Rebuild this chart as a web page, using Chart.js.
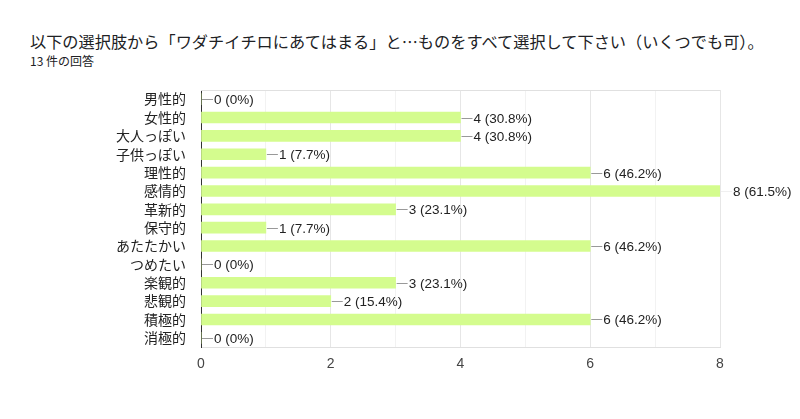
<!DOCTYPE html>
<html><head><meta charset="utf-8">
<script src="https://cdn.jsdelivr.net/npm/chart.js@4/dist/chart.umd.min.js"></script>
<style>
html,body{margin:0;padding:0;background:#fff;width:800px;height:419px;overflow:hidden;}
#t{position:absolute;left:30px;top:29px;font-family:"Noto Sans CJK JP","Noto Sans",sans-serif;font-size:16.2px;color:#202124;white-space:nowrap;}
#s{position:absolute;left:30px;top:52px;font-family:"Noto Sans CJK JP","Noto Sans",sans-serif;font-size:12px;color:#202124;white-space:nowrap;}
#w{position:absolute;left:0;top:0;width:800px;height:419px;}
</style></head><body>
<div id="t">以下の選択肢から「ワダチイチロにあてはまる」と…ものをすべて選択して下さい（いくつでも可）。</div>
<div id="s">13 件の回答</div>
<div id="w"><canvas id="c" width="800" height="419"></canvas></div>
<script>
const categories = ["男性的","女性的","大人っぽい","子供っぽい","理性的","感情的","革新的","保守的","あたたかい","つめたい","楽観的","悲観的","積極的","消極的"];
const counts = [0,4,4,1,6,8,3,1,6,0,3,2,6,0];
const percentLabels = ["0%","30.8%","30.8%","7.7%","46.2%","61.5%","23.1%","7.7%","46.2%","0%","23.1%","15.4%","46.2%","0%"];
const xTicks = [0,2,4,6,8];

const FONT = '"Liberation Sans", Arial, sans-serif';
const JFONT = '"Noto Sans CJK JP", sans-serif';

const labelPlugin = {
  id:'valueLabels',
  beforeDatasetsDraw(chart){
    const {ctx, chartArea:a} = chart;
    ctx.save();
    ctx.strokeStyle = '#e0e0e0';
    ctx.lineWidth = 1;
    ctx.beginPath(); ctx.moveTo(a.left, a.top+0.5); ctx.lineTo(a.right, a.top+0.5); ctx.stroke();
    ctx.restore();
  },
  afterDatasetsDraw(chart){
    const {ctx, chartArea:a} = chart;
    const meta = chart.getDatasetMeta(0);
    ctx.save();
    ctx.font = '13.5px ' + FONT;
    ctx.textBaseline = 'middle';
    ctx.fillStyle = '#222';
    meta.data.forEach((bar,i)=>{
      const x = bar.x, y = Math.round(bar.y)+0.5;
      ctx.strokeStyle = (x >= a.right-1) ? '#f0f0f0' : '#999';
      ctx.lineWidth = 1;
      ctx.beginPath(); ctx.moveTo(x+1, y); ctx.lineTo(x+12, y); ctx.stroke();
      ctx.fillText(counts[i] + ' (' + percentLabels[i] + ')', x+13, y+0.5);
    });
    ctx.restore();
  }
};

new Chart(document.getElementById('c'), {
  type:'bar',
  data:{labels:categories, datasets:[{data:counts, backgroundColor:'#d4fc8e', borderWidth:0, barThickness:11}]},
  options:{
    indexAxis:'y', responsive:false, animation:false, devicePixelRatio:1,
    layout:{padding:{top:90,right:80,left:0,bottom:0}},
    plugins:{legend:{display:false}, tooltip:{enabled:false}},
    scales:{
      x:{min:0,max:8,
        ticks:{stepSize:1, color:'#444', font:{size:14,family:FONT}, padding:9, autoSkip:false, maxRotation:0,
          callback:(v)=> xTicks.includes(v) ? String(v) : ''},
        grid:{color:(c)=> (c.tick && c.tick.value%2===0) ? '#e6e6e6' : '#f2f2f2', drawTicks:false},
        border:{display:true,color:'#e0e0e0'},
        afterFit:(s)=>{s.height=72;}
      },
      y:{
        ticks:{color:'#222', font:{size:14,family:JFONT}, padding:15, autoSkip:false},
        grid:{display:false, drawTicks:false},
        border:{display:true,color:'#333',width:1},
        afterFit:(s)=>{s.width=201;}
      }
    }
  },
  plugins:[labelPlugin]
});
</script>
</body></html>
